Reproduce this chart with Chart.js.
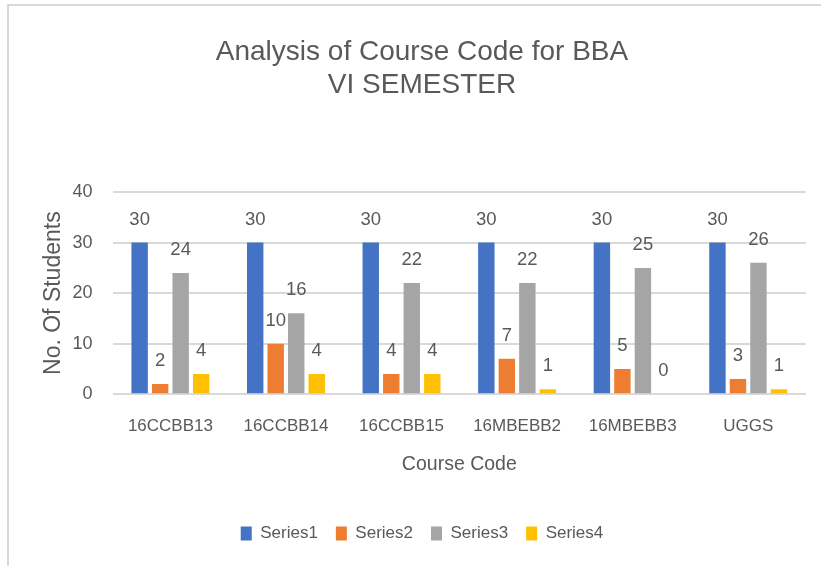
<!DOCTYPE html>
<html>
<head>
<meta charset="utf-8">
<script src="https://cdn.jsdelivr.net/npm/chart.js@4.4.0/dist/chart.umd.min.js"></script>
<style>
  html, body { margin: 0; padding: 0; background: #fff; overflow: hidden; }
  #frame { position: absolute; left: 7px; top: 4px; width: 900px; height: 700px;
           border-top: 2px solid #d9d9d9; border-left: 2px solid #d9d9d9; }
  #chart { position: absolute; left: 0; top: 0; }
</style>
</head>
<body>
<div id="frame"></div>
<canvas id="chart" width="821" height="566"></canvas>
<script>
// BBA VI semester course code analysis
const courseCodes = ['16CCBB13', '16CCBB14', '16CCBB15', '16MBEBB2', '16MBEBB3', 'UGGS'];
const series1 = [30, 30, 30, 30, 30, 30];
const series2 = [2, 10, 4, 7, 5, 3];
const series3 = [24, 16, 22, 22, 25, 26];
const series4 = [4, 4, 4, 1, 0, 1];
const yTicks = [0, 10, 20, 30, 40];

const FONT = "'Liberation Sans', Arial, sans-serif";
const TEXT = '#595959';

// value labels drawn above every bar
const barValues = {
  id: 'barValues',
  afterDatasetsDraw(chart) {
    const ctx = chart.ctx;
    ctx.save();
    ctx.font = '18.5px ' + FONT;
    ctx.fillStyle = TEXT;
    ctx.textAlign = 'center';
    ctx.textBaseline = 'middle';
    chart.data.datasets.forEach((ds, i) => {
      chart.getDatasetMeta(i).data.forEach((bar, j) => {
        ctx.fillText(String(ds.data[j]), bar.x, bar.y - 23);
      });
    });
    ctx.restore();
  }
};

new Chart(document.getElementById('chart'), {
  type: 'bar',
  data: {
    labels: courseCodes,
    datasets: [
      { label: 'Series1', data: series1, backgroundColor: '#4472C4' },
      { label: 'Series2', data: series2, backgroundColor: '#ED7D31' },
      { label: 'Series3', data: series3, backgroundColor: '#A5A5A5' },
      { label: 'Series4', data: series4, backgroundColor: '#FFC000' }
    ]
  },
  options: {
    responsive: false,
    animation: false,
    datasets: { bar: { categoryPercentage: 0.71, barPercentage: 0.8 } },
    layout: { padding: { left: 38, right: 15, top: 0, bottom: 14 } },
    plugins: {
      title: {
        display: true,
        text: ['Analysis of Course Code for BBA', 'VI SEMESTER'],
        color: TEXT,
        font: { family: FONT, size: 28, weight: 'normal', lineHeight: 1.18 },
        padding: { top: 36, bottom: 90 }
      },
      legend: {
        position: 'bottom',
        labels: {
          color: TEXT,
          font: { family: FONT, size: 17 },
          boxWidth: 11,
          boxHeight: 14,
          padding: 18
        }
      },
      tooltip: { enabled: false }
    },
    scales: {
      x: {
        grid: { display: false, drawTicks: false },
        border: { display: false },
        ticks: { color: TEXT, font: { family: FONT, size: 17 }, padding: 22 },
        title: {
          display: true,
          text: 'Course Code',
          color: TEXT,
          font: { family: FONT, size: 19.5 },
          padding: { top: -6, bottom: 31 }
        }
      },
      y: {
        min: 0,
        max: 40,
        afterBuildTicks(axis) { axis.ticks = yTicks.map(v => ({ value: v })); },
        grid: { color: '#d9d9d9', lineWidth: 2, drawTicks: false },
        border: { display: false },
        ticks: { color: TEXT, font: { family: FONT, size: 18 }, padding: 20 },
        title: {
          display: true,
          text: 'No. Of Students',
          color: TEXT,
          font: { family: FONT, size: 23 },
          padding: { top: 2, bottom: -15 }
        }
      }
    }
  },
  plugins: [barValues]
});
</script>
</body>
</html>
